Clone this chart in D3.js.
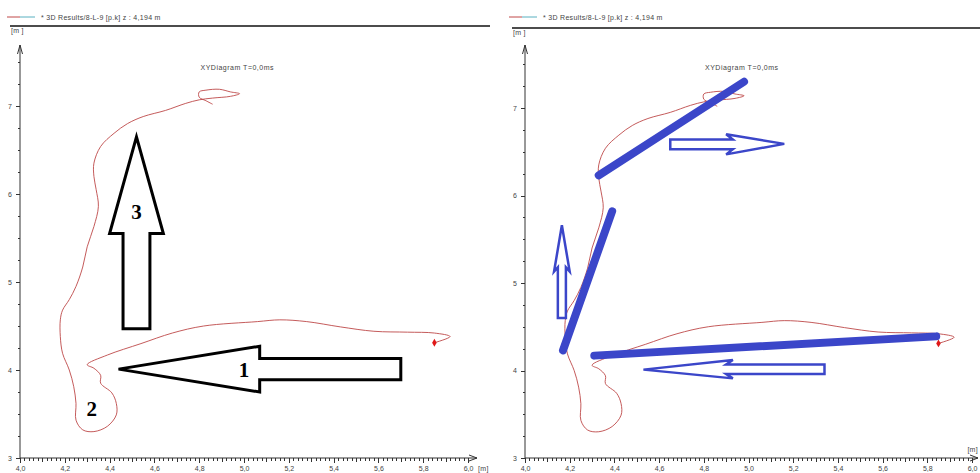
<!DOCTYPE html>
<html>
<head>
<meta charset="utf-8">
<script src="https://cdn.jsdelivr.net/npm/d3@7"></script>
<style>
  body { margin: 0; background: #fff; }
  svg { display: block; }
  .tiny { font-family: "Liberation Sans", Arial, sans-serif; font-size: 7px; fill: #444; letter-spacing: 0.3px; }
  .axis path, .axis line { stroke: #333; stroke-width: 1; shape-rendering: crispEdges; }
  .axis text { font-family: "Liberation Sans", Arial, sans-serif; font-size: 7px; fill: #444; }
</style>
</head>
<body>
<div id="chart"></div>
<script>
// Trajectory, in metres (same track on both panels).
var pathX = [5.85,5.92,5.85,5.73,5.58,5.43,5.28,5.16,5.06,4.82,4.68,4.54,4.39,4.30,4.33,
             4.36,4.36,4.41,4.43,4.43,4.39,4.33,4.28,4.25,4.25,4.24,4.22,4.19,4.18,4.18,
             4.19,4.22,4.25,4.28,4.30,4.33,4.35,4.34,4.33,4.33,4.36,4.42,4.48,4.55,4.65,
             4.74,4.80,4.86,4.94,4.98,4.94,4.89,4.83,4.80,4.80,4.83,4.86];
var pathY = [4.31,4.38,4.42,4.43,4.44,4.49,4.55,4.57,4.55,4.50,4.42,4.30,4.17,4.06,4.02,
             3.94,3.85,3.74,3.62,3.49,3.36,3.30,3.32,3.43,3.62,3.81,4.00,4.19,4.38,4.57,
             4.68,4.80,4.95,5.17,5.40,5.63,5.86,6.05,6.20,6.35,6.54,6.69,6.80,6.88,6.95,
             7.03,7.07,7.09,7.11,7.14,7.16,7.19,7.18,7.16,7.10,7.06,7.02];

// Tick values.
var xMajor = [4.0,4.2,4.4,4.6,4.8,5.0,5.2,5.4,5.6,5.8,6.0];
var yMajor = [3,4,5,6,7];

// Annotation shapes (data units).
var arrowOne   = [[4.44,4.01],[5.07,4.27],[5.07,4.13],[5.70,4.13],[5.70,3.89],[5.07,3.89],[5.07,3.75]];
var arrowThree = [[4.52,6.65],[4.64,5.55],[4.58,5.55],[4.58,4.47],[4.46,4.47],[4.46,5.55],[4.40,5.55]];
var stepLabels = [["1",5.00,4.00],["2",4.32,3.56],["3",4.52,5.80]];

var blueLines = [[[4.33,6.23],[4.98,7.30]],
                 [[4.39,5.82],[4.17,4.23]],
                 [[4.31,4.17],[5.84,4.39]]];
var blueArrowRight = [[5.16,6.59],[4.90,6.70],[4.93,6.64],[4.65,6.64],[4.65,6.53],[4.93,6.53],[4.90,6.47]];
var blueArrowLeft  = [[4.53,4.01],[4.93,4.12],[4.90,4.07],[5.34,4.07],[5.34,3.96],[4.90,3.96],[4.93,3.91]];
var blueArrowUp    = [[4.165,5.66],[4.20,5.13],[4.183,5.18],[4.183,4.60],[4.147,4.60],[4.147,5.18],[4.13,5.13]];

var width = 980, height = 473;
var blue = "#3b46c9";

var svg = d3.select("#chart").append("svg")
  .attr("width", width)
  .attr("height", height);

// Draws one XY diagram frame with the trajectory; returns its scales.
function drawPanel(left, right, yTop, headerY, x0, x1) {
  var g = svg.append("g");
  var x = d3.scaleLinear().domain([4, 6]).range([x0, x1]),
      y = d3.scaleLinear().domain([3, 7]).range([458, yTop]);

  // Header: legend swatch, text and rule.
  g.append("line").attr("x1", left - 3).attr("x2", left + 10).attr("y1", 17).attr("y2", 17)
    .attr("stroke", "#c04848").attr("stroke-width", 1);
  g.append("line").attr("x1", left + 10).attr("x2", left + 25).attr("y1", 17).attr("y2", 17)
    .attr("stroke", "#58b0c0").attr("stroke-width", 1);
  g.append("text").attr("class", "tiny").attr("x", left + 31).attr("y", 19.5)
    .text("* 3D Results/8-L-9 [p.k] z : 4,194 m");
  g.append("line").attr("x1", left).attr("x2", right).attr("y1", headerY).attr("y2", headerY)
    .attr("stroke", "#111").attr("stroke-width", 1.5);
  g.append("text").attr("class", "tiny").attr("x", left + 1).attr("y", headerY + 7).text("[m ]");
  g.append("text").attr("class", "tiny").attr("x", x(4.97)).attr("y", 69.5)
    .attr("text-anchor", "middle").style("letter-spacing", "0.5px").text("XYDiagram T=0,0ms");

  // X axis: minor, medium and major ticks.
  var xMinor = d3.range(4, 6.001, 0.02);
  var xMid = d3.range(4, 6.001, 0.1);
  g.append("g").attr("class", "axis").attr("transform", "translate(0,458)")
    .call(d3.axisBottom(x).tickValues(xMinor).tickSize(2.5).tickFormat("").tickSizeOuter(0))
    .select(".domain").remove();
  g.append("g").attr("class", "axis").attr("transform", "translate(0,458)")
    .call(d3.axisBottom(x).tickValues(xMid).tickSize(4).tickFormat("").tickSizeOuter(0))
    .select(".domain").remove();
  var xa = g.append("g").attr("class", "axis").attr("transform", "translate(0,458)")
    .call(d3.axisBottom(x).tickValues(xMajor).tickSize(5).tickPadding(3)
      .tickFormat(function (d) { return d3.format(".1f")(d).replace(".", ","); }).tickSizeOuter(0));
  xa.select(".domain").remove();
  // Unit label at the end of the x axis (above the axis when there is no room beside it).
  var roomy = x(6) + 24 < width;
  g.append("text").attr("class", "tiny")
    .attr("x", roomy ? x(6) + 10 : width - 2)
    .attr("y", roomy ? 471 : 452)
    .attr("text-anchor", roomy ? "start" : "end")
    .text("[m]");

  // Y axis: minor and major ticks.
  var yMinor = d3.range(3, 7.6, 0.25);
  g.append("g").attr("class", "axis").attr("transform", "translate(" + x0 + ",0)")
    .call(d3.axisLeft(y).tickValues(yMinor).tickSize(2).tickFormat("").tickSizeOuter(0))
    .select(".domain").remove();
  var ya = g.append("g").attr("class", "axis").attr("transform", "translate(" + x0 + ",0)")
    .call(d3.axisLeft(y).tickValues(yMajor).tickSize(4).tickPadding(4)
      .tickFormat(d3.format("d")).tickSizeOuter(0));
  ya.select(".domain").remove();

  // Axis lines with open arrow heads.
  var axisTop = 45, axisRight = Math.min(x1 + 9, width - 2);
  g.append("path")
    .attr("d", "M" + x0 + ",458V" + axisTop + "M" + (x0 - 2.5) + "," + (axisTop + 9) + "L" + x0 + "," + axisTop + "L" + (x0 + 2.5) + "," + (axisTop + 9))
    .attr("fill", "none").attr("stroke", "#333");
  g.append("path")
    .attr("d", "M" + x0 + ",458H" + axisRight + "M" + (axisRight - 8) + ",455L" + axisRight + ",458L" + (axisRight - 8) + ",461")
    .attr("fill", "none").attr("stroke", "#333");

  // Trajectory.
  var line = d3.line()
    .x(function (d) { return x(d[0]); })
    .y(function (d) { return y(d[1]); })
    .curve(d3.curveCatmullRom.alpha(0.5));
  g.append("path")
    .datum(pathX.map(function (d, i) { return [d, pathY[i]]; }))
    .attr("d", line)
    .attr("fill", "none")
    .attr("stroke", "#bd4848")
    .attr("stroke-width", 0.9);

  // Start marker.
  g.append("path")
    .attr("d", d3.symbol(d3.symbolDiamond, 18)())
    .attr("transform", "translate(" + x(pathX[0]) + "," + y(pathY[0]) + ")")
    .attr("fill", "#e01818");

  return {g: g, x: x, y: y};
}

function polygon(p, pts) {
  return "M" + pts.map(function (d) { return p.x(d[0]) + "," + p.y(d[1]); }).join("L") + "Z";
}

var leftPanel = drawPanel(10, 490, 106, 26, 20, 468);
var rightPanel = drawPanel(512, 980, 108, 28, 525, 972);

// Left panel: numbered black outline arrows.
[arrowOne, arrowThree].forEach(function (a) {
  leftPanel.g.append("path")
    .attr("d", polygon(leftPanel, a))
    .attr("fill", "#fff")
    .attr("stroke", "#000")
    .attr("stroke-width", 3)
    .attr("stroke-linejoin", "miter");
});
leftPanel.g.selectAll(".step").data(stepLabels).enter().append("text")
  .attr("class", "step")
  .attr("x", function (d) { return leftPanel.x(d[1]); })
  .attr("y", function (d) { return leftPanel.y(d[2]) + 7; })
  .attr("text-anchor", "middle")
  .style("font-family", "'Liberation Serif', 'Times New Roman', serif")
  .style("font-weight", "bold")
  .style("font-size", "21px")
  .text(function (d) { return d[0]; });

// Right panel: thick blue guide lines and blue outline arrows.
blueLines.forEach(function (l) {
  rightPanel.g.append("line")
    .attr("x1", rightPanel.x(l[0][0])).attr("y1", rightPanel.y(l[0][1]))
    .attr("x2", rightPanel.x(l[1][0])).attr("y2", rightPanel.y(l[1][1]))
    .attr("stroke", blue)
    .attr("stroke-width", 8)
    .attr("stroke-linecap", "round");
});
[blueArrowRight, blueArrowLeft, blueArrowUp].forEach(function (a) {
  rightPanel.g.append("path")
    .attr("d", polygon(rightPanel, a))
    .attr("fill", "#fff")
    .attr("stroke", blue)
    .attr("stroke-width", 2.5);
});
</script>
</body>
</html>
